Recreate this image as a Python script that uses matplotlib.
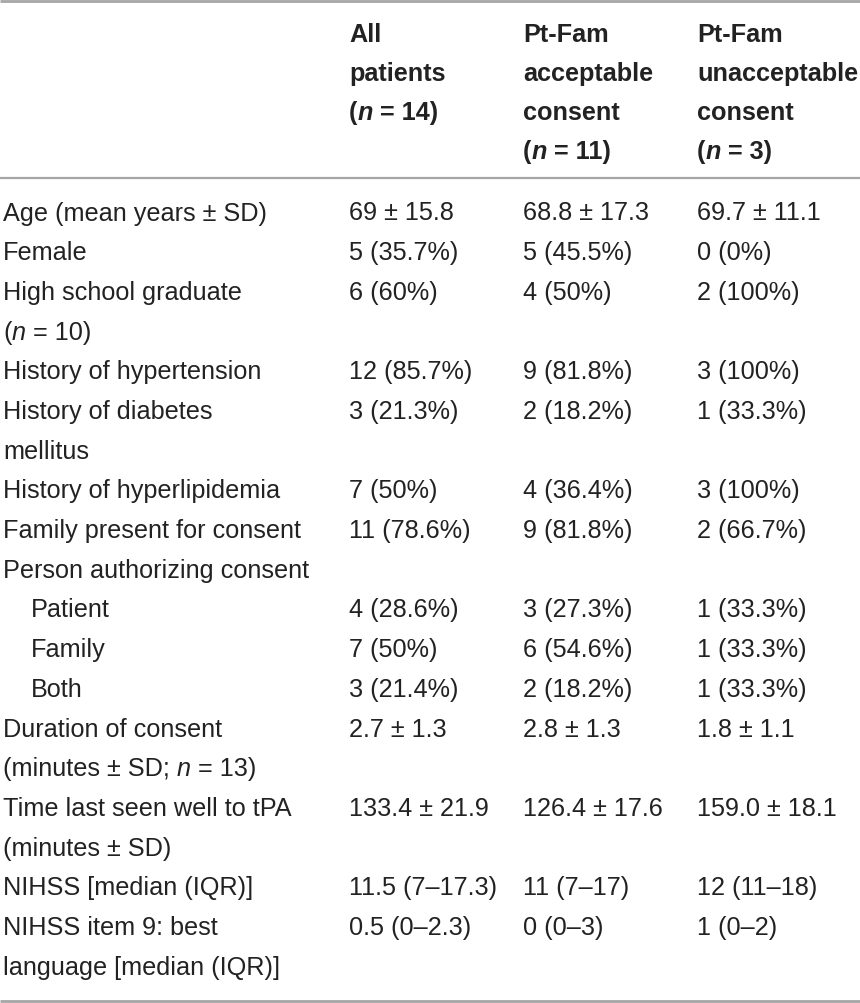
import matplotlib
matplotlib.use("Agg")
import matplotlib.pyplot as plt

# ---- data ----
header_cols = [
    [["All"], ["patients"], ["(", ("n", "it"), " = 14)"]],
    [["Pt-Fam"], ["acceptable"], ["consent"], ["(", ("n", "it"), " = 11)"]],
    [["Pt-Fam"], ["unacceptable"], ["consent"], ["(", ("n", "it"), " = 3)"]],
]

row_labels = [
    [["Age (mean years ± SD)"]],
    [["Female"]],
    [["High school graduate"], ["(", ("n", "it"), " = 10)"]],
    [["History of hypertension"]],
    [["History of diabetes"], ["mellitus"]],
    [["History of hyperlipidemia"]],
    [["Family present for consent"]],
    [["Person authorizing consent"]],
    [["Patient"]],
    [["Family"]],
    [["Both"]],
    [["Duration of consent"], ["(minutes ± SD; ", ("n", "it"), " = 13)"]],
    [["Time last seen well to tPA"], ["(minutes ± SD)"]],
    [["NIHSS [median (IQR)]"]],
    [["NIHSS item 9: best"], ["language [median (IQR)]"]],
]
row_indent = [0, 0, 0, 0, 0, 0, 0, 0, 1, 1, 1, 0, 0, 0, 0]

all_patients = ["69 ± 15.8", "5 (35.7%)", "6 (60%)", "12 (85.7%)", "3 (21.3%)",
                "7 (50%)", "11 (78.6%)", "", "4 (28.6%)", "7 (50%)", "3 (21.4%)",
                "2.7 ± 1.3", "133.4 ± 21.9", "11.5 (7–17.3)", "0.5 (0–2.3)"]
acceptable = ["68.8 ± 17.3", "5 (45.5%)", "4 (50%)", "9 (81.8%)", "2 (18.2%)",
              "4 (36.4%)", "9 (81.8%)", "", "3 (27.3%)", "6 (54.6%)", "2 (18.2%)",
              "2.8 ± 1.3", "126.4 ± 17.6", "11 (7–17)", "0 (0–3)"]
unacceptable = ["69.7 ± 11.1", "0 (0%)", "2 (100%)", "3 (100%)", "1 (33.3%)",
                "3 (100%)", "2 (66.7%)", "", "1 (33.3%)", "1 (33.3%)", "1 (33.3%)",
                "1.8 ± 1.1", "159.0 ± 18.1", "12 (11–18)", "1 (0–2)"]

# ---- layout ----
W, H = 860, 1004
fig = plt.figure(figsize=(W / 100, H / 100), dpi=100)
ax = fig.add_axes([0, 0, 1, 1])
ax.set_xlim(0, W)
ax.set_ylim(H, 0)
ax.axis("off")

BODY_FONT = ["Liberation Sans", "DejaVu Sans"]
HEAD_FONT = ["Liberation Sans", "DejaVu Sans"]
FS = 18.2
TXT = "#222222"
RULE = "#a6a6a6"

col_x = [349, 523, 697]
label_x = 3
indent_dx = 28
line_h = 39.7
body_top = 211
head_top = 33
head_h = 38.8

renderer = fig.canvas.get_renderer()
inv = ax.transData.inverted()


def draw_segments(x, y, segments, bold=False, family=BODY_FONT):
    for seg in segments:
        if isinstance(seg, tuple):
            s, style = seg
            fstyle = "italic"
        else:
            s, fstyle = seg, "normal"
        t = ax.text(x, y, s, fontsize=FS, family=family, color=TXT,
                    fontweight="bold" if bold else "normal", fontstyle=fstyle,
                    ha="left", va="center_baseline")
        bb = t.get_window_extent(renderer=renderer)
        x = inv.transform((bb.x1, bb.y0))[0]


# rules
for yy, lw in [(1.5, 2.0), (179, 1.6), (1002, 2.0)]:
    ax.plot([0, W], [yy, yy], color=RULE, lw=lw, solid_capstyle="butt")

# header
for ci, lines in enumerate(header_cols):
    for li, segs in enumerate(lines):
        draw_segments(col_x[ci], head_top + li * head_h, segs, bold=True,
                      family=HEAD_FONT)

# body
line_idx = 0
for ri, lines in enumerate(row_labels):
    y0 = body_top + line_idx * line_h
    for li, segs in enumerate(lines):
        draw_segments(label_x + indent_dx * row_indent[ri],
                      y0 + li * line_h, segs)
    for ci, col in enumerate([all_patients, acceptable, unacceptable]):
        if col[ri]:
            draw_segments(col_x[ci], y0, [col[ri]])
    line_idx += len(lines)

fig.savefig("out.png", dpi=100, facecolor="white")
